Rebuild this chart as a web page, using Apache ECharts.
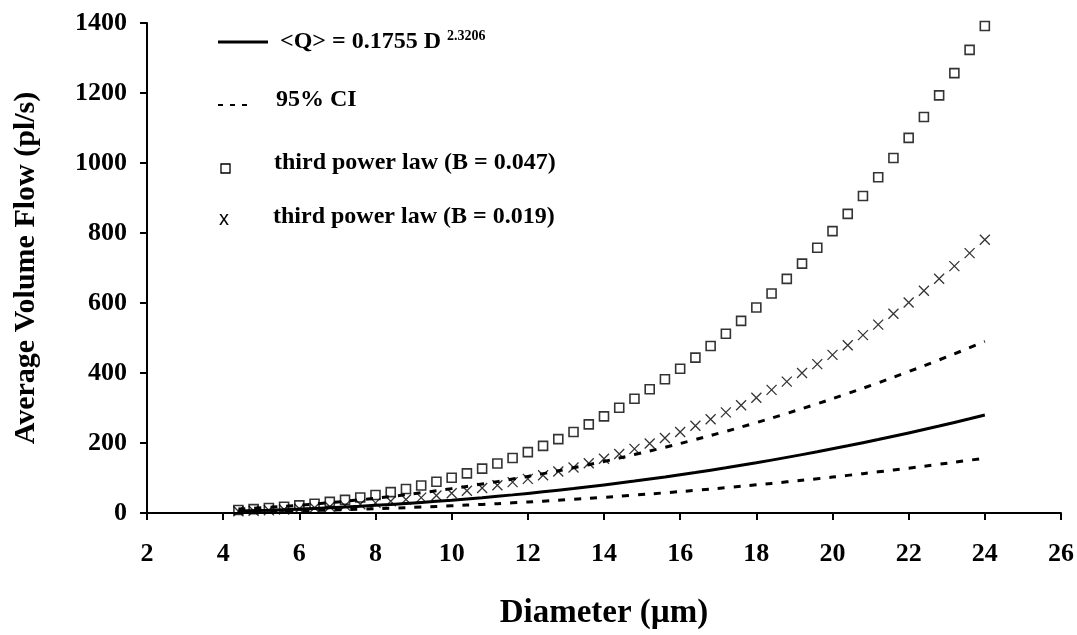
<!DOCTYPE html>
<html>
<head>
<meta charset="utf-8">
<script src="https://cdn.jsdelivr.net/npm/echarts@6/dist/echarts.min.js"></script>
<style>
  html, body { margin: 0; padding: 0; background: #fff; }
  #chart { width: 1077px; height: 635px; }
</style>
</head>
<body>
<div id="chart"></div>
<script>
// diameters (um) for the marker series
const diameters = [4.4, 4.8, 5.2, 5.6, 6.0, 6.4, 6.8, 7.2, 7.6, 8.0,
  8.4, 8.8, 9.2, 9.6, 10.0, 10.4, 10.8, 11.2, 11.6, 12.0,
  12.4, 12.8, 13.2, 13.6, 14.0, 14.4, 14.8, 15.2, 15.6, 16.0,
  16.4, 16.8, 17.2, 17.6, 18.0, 18.4, 18.8, 19.2, 19.6, 20.0,
  20.4, 20.8, 21.2, 21.6, 22.0, 22.4, 22.8, 23.2, 23.6, 24.0];

// third power law, B = 0.047 (squares)
const cubicB047 = [8.6, 11.1, 14.2, 17.7, 21.7, 26.4, 31.7, 37.6, 44.2, 51.5,
  59.7, 68.6, 78.4, 89.1, 100.7, 113.2, 126.8, 141.4, 157.1, 173.9,
  191.9, 211.1, 231.5, 253.2, 276.2, 300.6, 326.3, 353.5, 382.1, 412.3,
  444.0, 477.3, 512.2, 548.8, 587.1, 627.1, 668.9, 712.5, 757.9, 805.3,
  854.6, 905.8, 959.1, 1014.4, 1071.8, 1131.4, 1193.1, 1256.9, 1323.1, 1391.5];

// third power law, B = 0.019 (crosses)
const cubicB019 = [4.8, 6.2, 7.9, 9.9, 12.2, 14.8, 17.8, 21.1, 24.8, 28.9,
  33.5, 38.5, 44.0, 50.0, 56.5, 63.5, 71.2, 79.4, 88.2, 97.6,
  107.7, 118.5, 129.9, 142.1, 155.0, 168.7, 183.1, 198.4, 214.4, 231.3,
  249.1, 267.8, 287.4, 307.9, 329.4, 351.8, 375.3, 399.8, 425.3, 451.8,
  479.5, 508.3, 538.2, 569.2, 601.4, 634.8, 669.4, 705.3, 742.4, 780.8];

// fitted curve and its 95% CI
const fitDiameters = [4.4, 5.2, 6.0, 6.8, 7.6, 8.4, 9.2, 10.0, 10.8, 11.6, 12.4, 13.2, 14.0,
  14.8, 15.6, 16.4, 17.2, 18.0, 18.8, 19.6, 20.4, 21.2, 22.0, 22.8, 23.6, 24.0];
const fitMean = [5.5, 8.1, 11.2, 15.0, 19.4, 24.5, 30.3, 36.7, 43.9, 51.8, 60.5, 69.9, 80.2,
  91.2, 103.0, 115.7, 129.2, 143.6, 158.9, 175.0, 192.0, 209.9, 228.8, 248.5, 269.3, 280.0];
const ciUpper = [11.2, 16.2, 22.3, 29.5, 37.8, 47.2, 57.8, 69.6, 82.7, 97.0, 112.5, 129.3, 147.4,
  166.9, 187.7, 209.8, 233.3, 258.2, 284.5, 312.2, 341.4, 371.9, 404.0, 437.5, 472.4, 490.5];
const ciLower = [3.1, 4.5, 6.3, 8.4, 10.9, 13.7, 17.0, 20.6, 24.6, 29.0, 33.9, 39.2, 44.9,
  51.1, 57.7, 64.8, 72.4, 80.4, 89.0, 98.0, 107.5, 117.6, 128.1, 139.2, 150.8, 156.8];

const legendLabels = ['<Q> = 0.1755 D ', '2.3206', '95% CI',
  'third power law (B = 0.047)', 'third power law (B = 0.019)'];

const serif = 'Liberation Serif';
const pairs = (xs, ys) => xs.map((x, i) => [x, ys[i]]);
const plain = v => String(v);

const chart = echarts.init(document.getElementById('chart'));

const option = {
  animation: false,
  backgroundColor: '#fff',
  grid: { left: 147, right: 15, top: 23, bottom: 110 },
  xAxis: {
    type: 'value',
    min: 2, max: 26, interval: 2,
    name: 'Diameter (\u00b5m)',
    nameLocation: 'middle',
    nameGap: 84,
    nameTextStyle: { fontFamily: serif, fontWeight: 'bold', fontSize: 33, color: '#000' },
    axisLine: { show: true, onZero: false, lineStyle: { color: '#000', width: 2 } },
    axisTick: { show: true, length: 7, lineStyle: { color: '#000', width: 2 } },
    axisLabel: { margin: 28, formatter: plain, fontFamily: serif, fontWeight: 'bold', fontSize: 26, color: '#000' },
    splitLine: { show: false }
  },
  yAxis: {
    type: 'value',
    min: 0, max: 1400, interval: 200,
    name: 'Average Volume Flow (pl/s)',
    nameLocation: 'middle',
    nameGap: 106,
    nameTextStyle: { fontFamily: serif, fontWeight: 'bold', fontSize: 30, color: '#000' },
    axisLine: { show: true, lineStyle: { color: '#000', width: 2 } },
    axisTick: { show: true, length: 7, lineStyle: { color: '#000', width: 2 } },
    axisLabel: { margin: 20, formatter: plain, fontFamily: serif, fontWeight: 'bold', fontSize: 26, color: '#000' },
    splitLine: { show: false }
  },
  series: [
    {
      name: 'fit', type: 'line', smooth: true, showSymbol: false,
      data: pairs(fitDiameters, fitMean),
      lineStyle: { color: '#000', width: 3 }, z: 3
    },
    {
      name: 'ci upper', type: 'line', smooth: true, showSymbol: false,
      data: pairs(fitDiameters, ciUpper),
      lineStyle: { color: '#000', width: 3, type: [7, 9] }, z: 3
    },
    {
      name: 'ci lower', type: 'line', smooth: true, showSymbol: false,
      data: pairs(fitDiameters, ciLower),
      lineStyle: { color: '#000', width: 3, type: [7, 9] }, z: 3
    },
    {
      name: 'B047', type: 'scatter',
      data: pairs(diameters, cubicB047),
      symbol: 'rect', symbolSize: 9,
      itemStyle: { color: 'transparent', borderColor: '#000', borderWidth: 1.6 }, z: 4
    },
    {
      name: 'B019', type: 'scatter',
      data: pairs(diameters, cubicB019),
      symbol: 'path://M0,0L10,10M10,0L0,10', symbolSize: 10,
      itemStyle: { color: 'transparent', borderColor: '#000', borderWidth: 1.3 }, z: 4
    }
  ],
  graphic: [
    { type: 'line', shape: { x1: 218, y1: 42, x2: 268, y2: 42 }, style: { stroke: '#000', lineWidth: 3 } },
    {
      type: 'text', x: 280, y: 42,
      style: {
        text: '{m|' + legendLabels[0] + '}{s|' + legendLabels[1] + '}',
        verticalAlign: 'middle',
        rich: {
          m: { fontFamily: serif, fontWeight: 'bold', fontSize: 24, fill: '#000' },
          s: { fontFamily: serif, fontWeight: 'bold', fontSize: 14, fill: '#000', verticalAlign: 'top', padding: [0, 0, 12, 0] }
        }
      }
    },
    { type: 'line', shape: { x1: 218, y1: 105, x2: 252, y2: 105 }, style: { stroke: '#000', lineWidth: 2, lineDash: [5, 7] } },
    { type: 'text', x: 276, y: 100, style: { text: legendLabels[2], verticalAlign: 'middle', font: 'bold 24px "Liberation Serif"', fill: '#000' } },
    { type: 'rect', shape: { x: 221, y: 164, width: 9, height: 9 }, style: { fill: 'none', stroke: '#000', lineWidth: 1.3 } },
    { type: 'text', x: 274, y: 163, style: { text: legendLabels[3], verticalAlign: 'middle', font: 'bold 24px "Liberation Serif"', fill: '#000' } },
    { type: 'text', x: 224, y: 219, style: { text: 'x', align: 'center', verticalAlign: 'middle', font: '20px "Liberation Sans"', fill: '#000' } },
    { type: 'text', x: 273, y: 217, style: { text: legendLabels[4], verticalAlign: 'middle', font: 'bold 24px "Liberation Serif"', fill: '#000' } }
  ]
};

chart.setOption(option);
</script>
</body>
</html>
